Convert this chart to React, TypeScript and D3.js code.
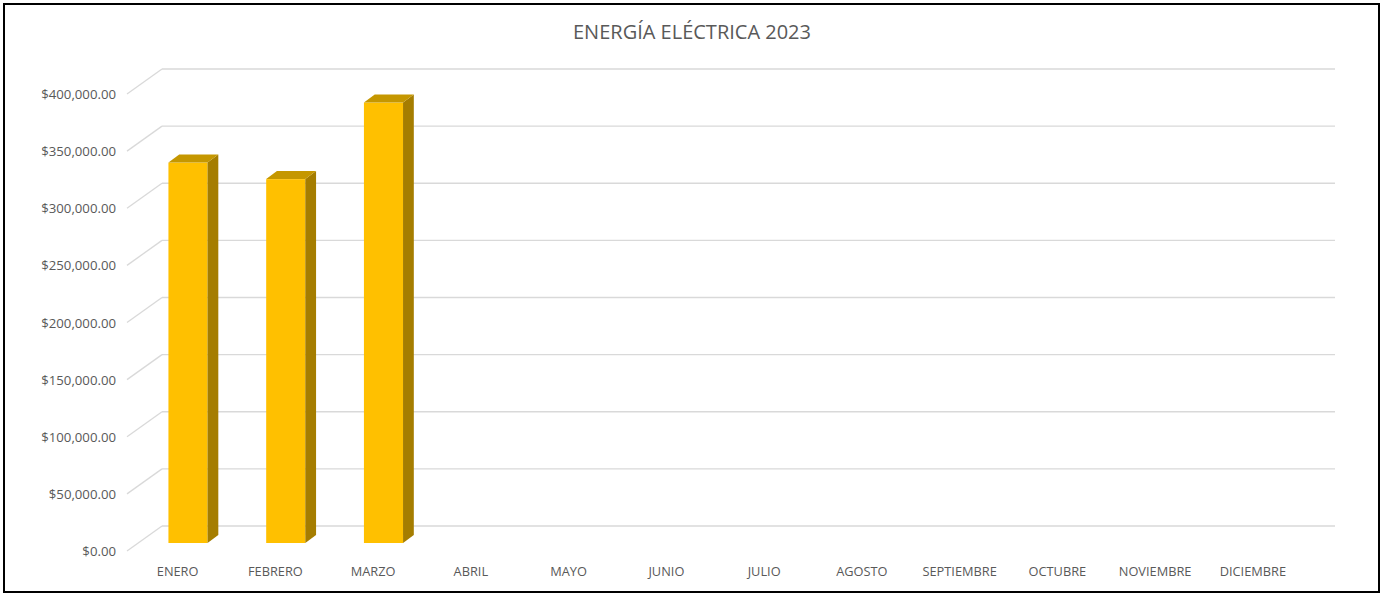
import React from "react";
import * as d3 from "d3";

const title = "ENERGÍA ELÉCTRICA 2023";
const months = ["ENERO","FEBRERO","MARZO","ABRIL","MAYO","JUNIO","JULIO","AGOSTO","SEPTIEMBRE","OCTUBRE","NOVIEMBRE","DICIEMBRE"];
const values: (number | null)[] = [333000, 318500, 385500, null, null, null, null, null, null, null, null, null];
const yTicks = [0, 50000, 100000, 150000, 200000, 250000, 300000, 350000, 400000];

export default function App() {
  const W = 1383, H = 596;
  const backLeft = 162, backRight = 1335;
  const depthDx = -35, depthDy = 26;
  const y = d3.scaleLinear().domain([0, 400000]).range([526, 69]);
  const x = d3.scaleBand().domain(months).range([backLeft, backRight]).paddingInner(0.6).paddingOuter(0.3);
  const fmt = (v: number) => "$" + d3.format(",.2f")(v);
  const dFront = 0.654, dBack = 0.346;
  const font = "'Open Sans', Carlito, Lato, sans-serif";
  const txt = "#595959";
  const grid = "#D9D9D9";

  return (
    <svg width={W} height={H} style={{ position: "absolute", left: 0, top: 0, background: "#fff" }} fontFamily={font}>
      <rect x={4} y={4} width={1375} height={588} fill="#fff" stroke="#000" strokeWidth={2} />
      <text x={692} y={38.5} textAnchor="middle" fontSize={20} fill={txt}>{title}</text>
      {yTicks.map((t) => {
        const yy = y(t);
        return (
          <g key={t}>
            <line x1={backLeft} x2={backRight} y1={yy} y2={yy} stroke={grid} strokeWidth={1.3} />
            <line x1={backLeft} y1={yy} x2={backLeft + depthDx} y2={yy + depthDy - 1} stroke={grid} strokeWidth={1.3} />
            <text x={116} y={yy + depthDy - 0.5} dy="0.35em" textAnchor="end" fontSize={13.2} fill={txt}>{fmt(t)}</text>
          </g>
        );
      })}
      {months.map((m, i) => {
        const v = values[i];
        const bx = x(m)! ;
        const bw = x.bandwidth();
        const lblX = bx + bw / 2 + depthDx * 0.95;
        let bar = null;
        if (v != null) {
          const fx0 = bx + depthDx * dFront;
          const fx1 = fx0 + bw;
          const fyB = y(0) + depthDy * dFront;
          const fyT = y(v) + depthDy * dFront;
          const ddx = depthDx * (dBack - dFront);
          const ddy = depthDy * (dBack - dFront);
          bar = (
            <g>
              <rect x={fx0} y={fyT} width={bw} height={fyB - fyT} fill="#FFC000" />
              <polygon points={`${fx1},${fyT} ${fx1 + ddx},${fyT + ddy} ${fx1 + ddx},${fyB + ddy} ${fx1},${fyB}`} fill="#A57D00" />
              <polygon points={`${fx0},${fyT} ${fx1},${fyT} ${fx1 + ddx},${fyT + ddy} ${fx0 + ddx},${fyT + ddy}`} fill="#C59700" />
            </g>
          );
        }
        return (
          <g key={m}>
            {bar}
            <text x={lblX} y={572} dy="0.35em" textAnchor="middle" fontSize={12.8} fill={txt}>{m}</text>
          </g>
        );
      })}
    </svg>
  );
}
